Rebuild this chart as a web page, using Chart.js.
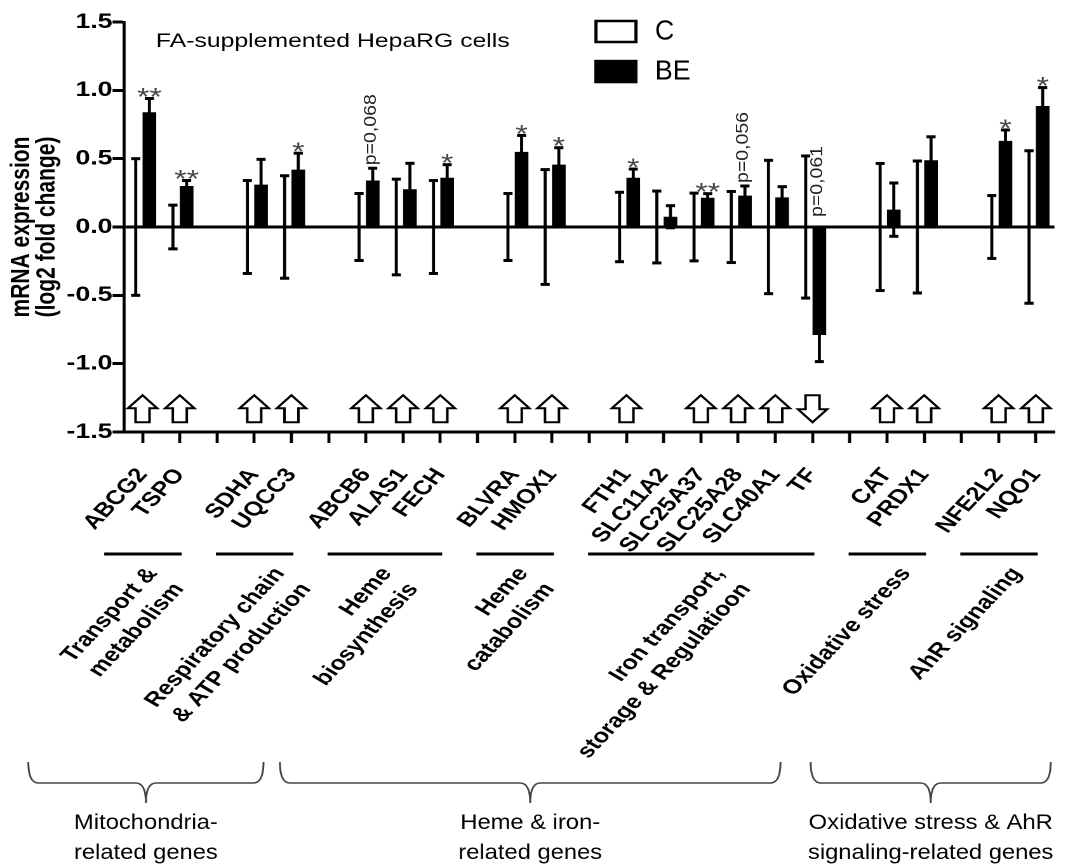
<!DOCTYPE html>
<html>
<head>
<meta charset="utf-8">
<script src="https://cdn.jsdelivr.net/npm/chart.js@4.4.1/dist/chart.umd.min.js"></script>
<style>
  html, body { margin: 0; padding: 0; background: #fff; overflow: hidden; }
  /* the original figure is stretched sideways, so draw narrow and stretch */
  #wrap { width: 856px; height: 867px; transform: scaleX(1.2699); transform-origin: 0 0; }
</style>
</head>
<body>
<div id="wrap"><canvas id="chart"></canvas></div>
<script>
// x slots ('' = gap between gene groups)
var genes = ['ABCG2', 'TSPO', '', 'SDHA', 'UQCC3', '', 'ABCB6', 'ALAS1', 'FECH', '', 'BLVRA', 'HMOX1', '',
             'FTH1', 'SLC11A2', 'SLC25A37', 'SLC25A28', 'SLC40A1', 'TF', '', 'CAT', 'PRDX1', '', 'NFE2L2', 'NQO1'];

// Control (C): log2 fold change 0, only the SD shows
var cMean = [0, 0, null, 0, 0, null, 0, 0, 0, null, 0, 0, null, 0, 0, 0, 0, 0, 0, null, 0, 0, null, 0, 0];
var cSd   = [0.50, 0.16, null, 0.34, 0.375, null, 0.245, 0.35, 0.34, null, 0.245, 0.42, null,
             0.254, 0.263, 0.248, 0.26, 0.488, 0.52, null, 0.465, 0.483, null, 0.23, 0.558];

// BE treated
var beMean = [0.84, 0.30, null, 0.31, 0.42, null, 0.34, 0.276, 0.36, null, 0.55, 0.456, null,
              0.36, 0.075, 0.214, 0.23, 0.217, -0.79, null, 0.127, 0.488, null, 0.63, 0.885];
var beSd   = [0.10, 0.04, null, 0.185, 0.12, null, 0.09, 0.19, 0.096, null, 0.12, 0.124, null,
              0.064, 0.081, 0.03, 0.07, 0.078, 0.195, null, 0.195, 0.172, null, 0.08, 0.135];

// significance marks above BE bars
var marks = ['**', '**', '', '', '*', '', 'p=0,068', '', '*', '', '*', '*', '',
             '*', '', '**', 'p=0,056', '', 'p=0,061', '', '', '', '', '*', '*'];

// regulation arrows
var arrows = ['up', 'up', null, 'up', 'up', null, 'up', 'up', 'up', null, 'up', 'up', null,
              'up', null, 'up', 'up', 'up', 'down', null, 'up', 'up', null, 'up', 'up'];
var arrowLevel = -1.33;

// y axis
var yMin = -1.5, yMax = 1.5, yStep = 0.5;
var yTitle = ['mRNA expression', '(log2 fold change)'];
var chartTitle = 'FA-supplemented HepaRG cells';

// gene groups (first / last slot index)
var groupNames = [['Transport &', 'metabolism'], ['Respiratory chain', '& ATP production'], ['Heme', 'biosynthesis'],
                  ['Heme', 'catabolism'], ['Iron transport,', 'storage & Regulatioon'], ['Oxidative stress'], ['AhR signaling']];
var groupFirst = [0, 3, 6, 10, 13, 20, 23];
var groupLast  = [1, 4, 8, 11, 18, 21, 24];

// bigger families under braces
var familyNames = [['Mitochondria-', 'related genes'], ['Heme & iron-', 'related genes'], ['Oxidative stress & AhR', 'signaling-related genes']];

var FONT = '"Liberation Sans", Arial, sans-serif';
var TILT = 53; // label angle before the sideways stretch
Chart.defaults.font.family = FONT;
Chart.defaults.color = '#000';

// Draws error bars, marks, arrows and everything below the axis
var annotate = {
  id: 'annotate',
  afterDatasetsDraw: function(chart) {
    var ctx = chart.ctx, xs = chart.scales.x, ys = chart.scales.y;
    ctx.save();
    ctx.fillStyle = '#000';

    // error bars
    [[0, cMean, cSd], [1, beMean, beSd]].forEach(function(s) {
      var meta = chart.getDatasetMeta(s[0]);
      meta.data.forEach(function(bar, i) {
        if (s[2][i] == null) return;
        var top = ys.getPixelForValue(s[1][i] + s[2][i]);
        var bot = ys.getPixelForValue(s[1][i] - s[2][i]);
        ctx.fillRect(bar.x - 1.2, top, 2.4, bot - top);
        ctx.fillRect(bar.x - 3.6, top - 1.5, 7.2, 3);
        ctx.fillRect(bar.x - 3.6, bot - 1.5, 7.2, 3);
      });
    });

    // stars and p values
    var beMeta = chart.getDatasetMeta(1);
    marks.forEach(function(m, i) {
      if (!m) return;
      var bx = beMeta.data[i].x;
      if (m.charAt(0) === '*') {
        ctx.font = '25px ' + FONT;
        ctx.fillStyle = '#444';
        ctx.textAlign = 'center';
        ctx.textBaseline = 'alphabetic';
        ctx.fillText(m, bx, ys.getPixelForValue(beMean[i] + beSd[i]) + 7);
      } else {
        var base = beMean[i] > 0 ? ys.getPixelForValue(beMean[i] + beSd[i]) - 3 : ys.getPixelForValue(0) - 10;
        ctx.save();
        ctx.translate(bx - 1.5, base);
        ctx.scale(0.7, 1);
        ctx.rotate(-Math.PI / 2);
        ctx.font = '19.5px ' + FONT;
        ctx.fillStyle = '#222';
        ctx.textAlign = 'left';
        ctx.textBaseline = 'middle';
        ctx.fillText(m, 0, 0);
        ctx.restore();
      }
    });

    // arrows
    ctx.lineWidth = 2;
    ctx.strokeStyle = '#000';
    arrows.forEach(function(d, i) {
      if (!d) return;
      var cx = xs.getPixelForValue(i), cy = ys.getPixelForValue(arrowLevel);
      var k = d === 'down' ? -1 : 1;
      ctx.beginPath();
      ctx.moveTo(cx - 11.5, cy - k * 0.5);
      ctx.lineTo(cx, cy - k * 13.5);
      ctx.lineTo(cx + 11.5, cy - k * 0.5);
      ctx.lineTo(cx + 5.5, cy - k * 0.5);
      ctx.lineTo(cx + 5.5, cy + k * 13.5);
      ctx.lineTo(cx - 5.5, cy + k * 13.5);
      ctx.lineTo(cx - 5.5, cy - k * 0.5);
      ctx.closePath();
      ctx.fillStyle = '#fff';
      ctx.fill();
      ctx.stroke();
    });
    ctx.restore();
  },

  afterDraw: function(chart) {
    var ctx = chart.ctx, xs = chart.scales.x, area = chart.chartArea;
    ctx.save();
    ctx.fillStyle = '#000';

    // y axis title, two rotated lines
    ctx.font = 'bold 21px ' + FONT;
    ctx.textAlign = 'center';
    ctx.textBaseline = 'middle';
    yTitle.forEach(function(t, j) {
      ctx.save();
      ctx.translate(17.3 + j * 19.7, (area.top + area.bottom) / 2);
      ctx.rotate(-Math.PI / 2);
      ctx.fillText(t, 0, 0);
      ctx.restore();
    });

    // title
    ctx.font = '19.5px ' + FONT;
    ctx.textAlign = 'left';
    ctx.textBaseline = 'alphabetic';
    ctx.fillText(chartTitle, 122.8, 47);

    // legend
    var ds = chart.data.datasets;
    ctx.lineWidth = 2.5;
    ctx.strokeStyle = '#000';
    ctx.fillStyle = '#fff';
    ctx.fillRect(469.3, 21, 31.5, 21);
    ctx.strokeRect(469.3, 21, 31.5, 21);
    ctx.fillStyle = '#000';
    ctx.fillRect(468, 59.8, 34, 23.5);
    ctx.font = '28px ' + FONT;
    ctx.textBaseline = 'middle';
    [[ds[0].label, 32], [ds[1].label, 72]].forEach(function(l) {
      ctx.save();
      ctx.translate(515.7, l[1]);
      ctx.scale(0.75, 1);
      ctx.fillText(l[0], 0, 0);
      ctx.restore();
    });

    // group lines and tilted group names
    var nudge = [7.6, 19.8, 1.6, 6.4, 14.4, 14.7, 14];
    ctx.font = 'bold 20px ' + FONT;
    ctx.textAlign = 'right';
    ctx.textBaseline = 'middle';
    groupNames.forEach(function(lines, g) {
      var x1 = xs.getPixelForValue(groupFirst[g] - 1.03);
      var x2 = xs.getPixelForValue(groupLast[g] + 0.05);
      ctx.fillRect(x1, 552.5, x2 - x1, 3);
      ctx.save();
      ctx.translate((x1 + x2) / 2 + nudge[g], 570);
      ctx.rotate(-TILT * Math.PI / 180);
      lines.forEach(function(t, j) { ctx.fillText(t, 0, j * 26); });
      ctx.restore();
    });

    // braces and family names
    var spans = [[-3.07, 3.25], [3.69, 17.14], [17.95, 24.4]];
    ctx.strokeStyle = '#444';
    ctx.lineWidth = 1.5;
    spans.forEach(function(sp, f) {
      var x1 = xs.getPixelForValue(sp[0]), x2 = xs.getPixelForValue(sp[1]);
      var xm = (x1 + x2) / 2, y0 = 762, y1 = 783, y2 = 803, r = 8;
      ctx.beginPath();
      ctx.moveTo(x1, y0);
      ctx.quadraticCurveTo(x1, y1, x1 + r, y1);
      ctx.lineTo(xm - r, y1);
      ctx.quadraticCurveTo(xm, y1, xm, y2);
      ctx.quadraticCurveTo(xm, y1, xm + r, y1);
      ctx.lineTo(x2 - r, y1);
      ctx.quadraticCurveTo(x2, y1, x2, y0);
      ctx.stroke();

      ctx.font = '21px ' + FONT;
      ctx.textAlign = 'center';
      ctx.textBaseline = 'alphabetic';
      familyNames[f].forEach(function(t, j) {
        ctx.save();
        ctx.translate(xm, 829 + j * 30);
        ctx.scale(0.89, 1);
        ctx.fillText(t, 0, 0);
        ctx.restore();
      });
    });
    ctx.restore();
  }
};

function isZero(c) { return c.tick && Math.abs(c.tick.value) < 1e-9; }

new Chart(document.getElementById('chart'), {
  type: 'bar',
  data: {
    labels: genes,
    datasets: [
      { label: 'C', data: cMean, backgroundColor: '#fff', borderColor: '#000', borderWidth: 0 },
      { label: 'BE', data: beMean, backgroundColor: '#000', borderWidth: 0 }
    ]
  },
  options: {
    responsive: true,
    maintainAspectRatio: false,
    animation: false,
    devicePixelRatio: 2,
    layout: { padding: { top: 22, right: 7.2, left: 0, bottom: 0 } },
    datasets: { bar: { categoryPercentage: 0.734, barPercentage: 1 } },
    plugins: { legend: { display: false }, tooltip: { enabled: false } },
    scales: {
      x: {
        offset: true,
        grid: { offset: false, drawOnChartArea: false, drawTicks: true, tickLength: 11, tickWidth: 2.4, tickColor: '#000' },
        border: { display: true, color: '#000', width: 3 },
        ticks: { autoSkip: false, minRotation: TILT, maxRotation: TILT, padding: 21, color: '#000',
                 font: { size: 20, weight: 'bold' } },
        afterFit: function(s) { s.height = 435; }
      },
      y: {
        min: yMin,
        max: yMax,
        ticks: { stepSize: yStep, padding: 0, color: '#000', font: { size: 21, weight: 'bold' },
                 callback: function(v) { return v.toFixed(1); } },
        grid: {
          drawOnChartArea: true, drawTicks: true, tickLength: 9, tickWidth: 3, tickColor: '#000',
          color: function(c) { return isZero(c) ? '#000' : 'rgba(0,0,0,0)'; },
          lineWidth: function(c) { return isZero(c) ? 3 : 0; }
        },
        border: { display: true, color: '#000', width: 2.4 },
        afterFit: function(s) { s.width = 97.6; }
      }
    }
  },
  plugins: [annotate]
});
</script>
</body>
</html>
